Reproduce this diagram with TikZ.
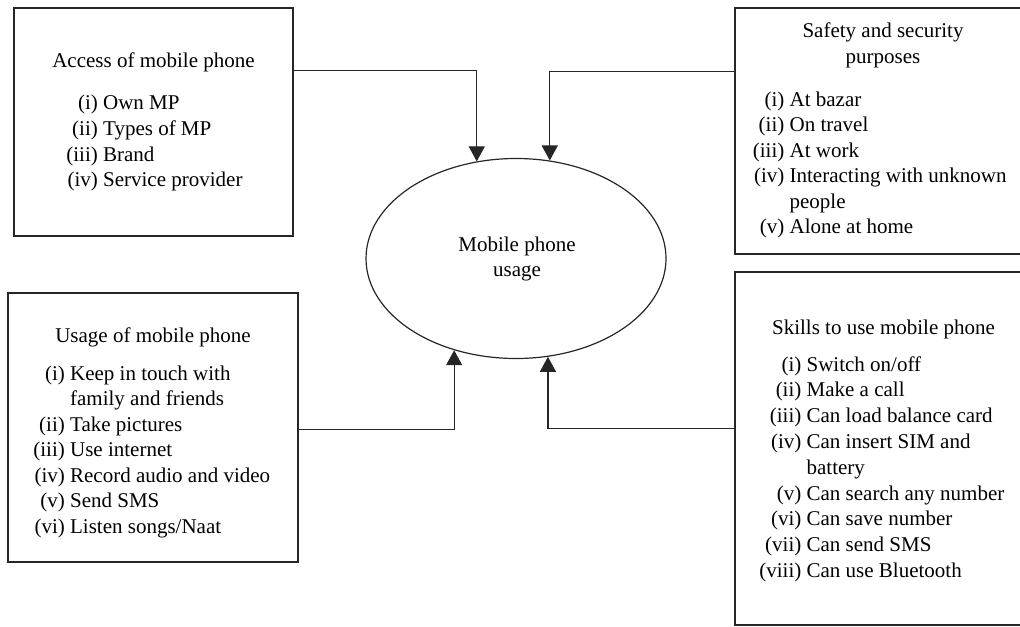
\documentclass[tikz,border=0pt]{standalone}
\usepackage{fontspec}
\setmainfont{Liberation Serif}
\usetikzlibrary{shapes.geometric,arrows.meta}
\begin{document}
\begin{tikzpicture}[x=0.5pt,y=-0.5pt,
  box/.style={draw=black!85,line width=0.6pt,rectangle,inner sep=0pt},
  oval/.style={draw=black!85,line width=0.6pt,ellipse,inner sep=0pt},
  txt/.style={inner sep=0pt,anchor=base,font=\fontsize{10.5}{12.75}\selectfont},
  lst/.style={inner sep=0pt,anchor=base west,font=\fontsize{10.5}{12.75}\selectfont},
  lstb/.style={inner sep=0pt,anchor=base west,font=\fontsize{10.5}{12.9}\selectfont},
  arr/.style={draw=black!85,line width=0.6pt,-{Triangle[length=7.5pt,width=8pt]}}]
\useasboundingbox (0,0) rectangle (1020,626);
\clip (0,0) rectangle (1020,626);

% boxes
\node[box,minimum width=139.5pt,minimum height=114pt] (tl) at (153.5,122) {};
\node[box,minimum width=148pt,minimum height=123pt] (tr) at (883,131) {};
\node[box,minimum width=145pt,minimum height=134.5pt] (bl) at (153,427.5) {};
\node[box,minimum width=148pt,minimum height=176.5pt] (br) at (883,448.5) {};
\node[oval,minimum width=150pt,minimum height=100pt] (el) at (516,258.5) {};

% texts
\node[txt] (tlt) at (153.5,68) {Access of mobile phone};
\node[lst] (tll) at (66,110) {\begin{tabular}[t]{@{}r@{\ }l@{}}
(i)&Own MP\\(ii)&Types of MP\\(iii)&Brand\\(iv)&Service provider\end{tabular}};

\node[txt] (trt) at (883,38) {\begin{tabular}[t]{@{}c@{}}Safety and security\\purposes\end{tabular}};
\node[lst] (trl) at (752.5,106) {\begin{tabular}[t]{@{}r@{\ }l@{}}
(i)&At bazar\\(ii)&On travel\\(iii)&At work\\(iv)&Interacting with unknown\\&people\\(v)&Alone at home\end{tabular}};

\node[txt] (blt) at (153,342) {Usage of mobile phone};
\node[lst] (bll) at (33,380) {\begin{tabular}[t]{@{}r@{\ }l@{}}
(i)&Keep in touch with\\&family and friends\\(ii)&Take pictures\\(iii)&Use internet\\(iv)&Record audio and video\\(v)&Send SMS\\(vi)&Listen songs/Naat\end{tabular}};

\node[txt] (brt) at (883.5,334) {Skills to use mobile phone};
\node[lstb] (brl) at (759,371) {\begin{tabular}[t]{@{}r@{\ }l@{}}
(i)&Switch on/off\\(ii)&Make a call\\(iii)&Can load balance card\\(iv)&Can insert SIM and\\&battery\\(v)&Can search any number\\(vi)&Can save number\\(vii)&Can send SMS\\(viii)&Can use Bluetooth\end{tabular}};

\node[txt] (elt) at (517,251) {\begin{tabular}[t]{@{}c@{}}Mobile phone\\usage\end{tabular}};

% connectors
\draw[arr] (tl.north east) ++(0,63) -| (el.112.5);
\draw[arr] (tr.north west) ++(0,64) -| (el.71.3);
\draw[arr] (bl.north east) ++(0,137) -| (el.236.3);
\draw[arr] (br.north west) ++(0,157) -| (el.288.7);
\end{tikzpicture}
\end{document}
